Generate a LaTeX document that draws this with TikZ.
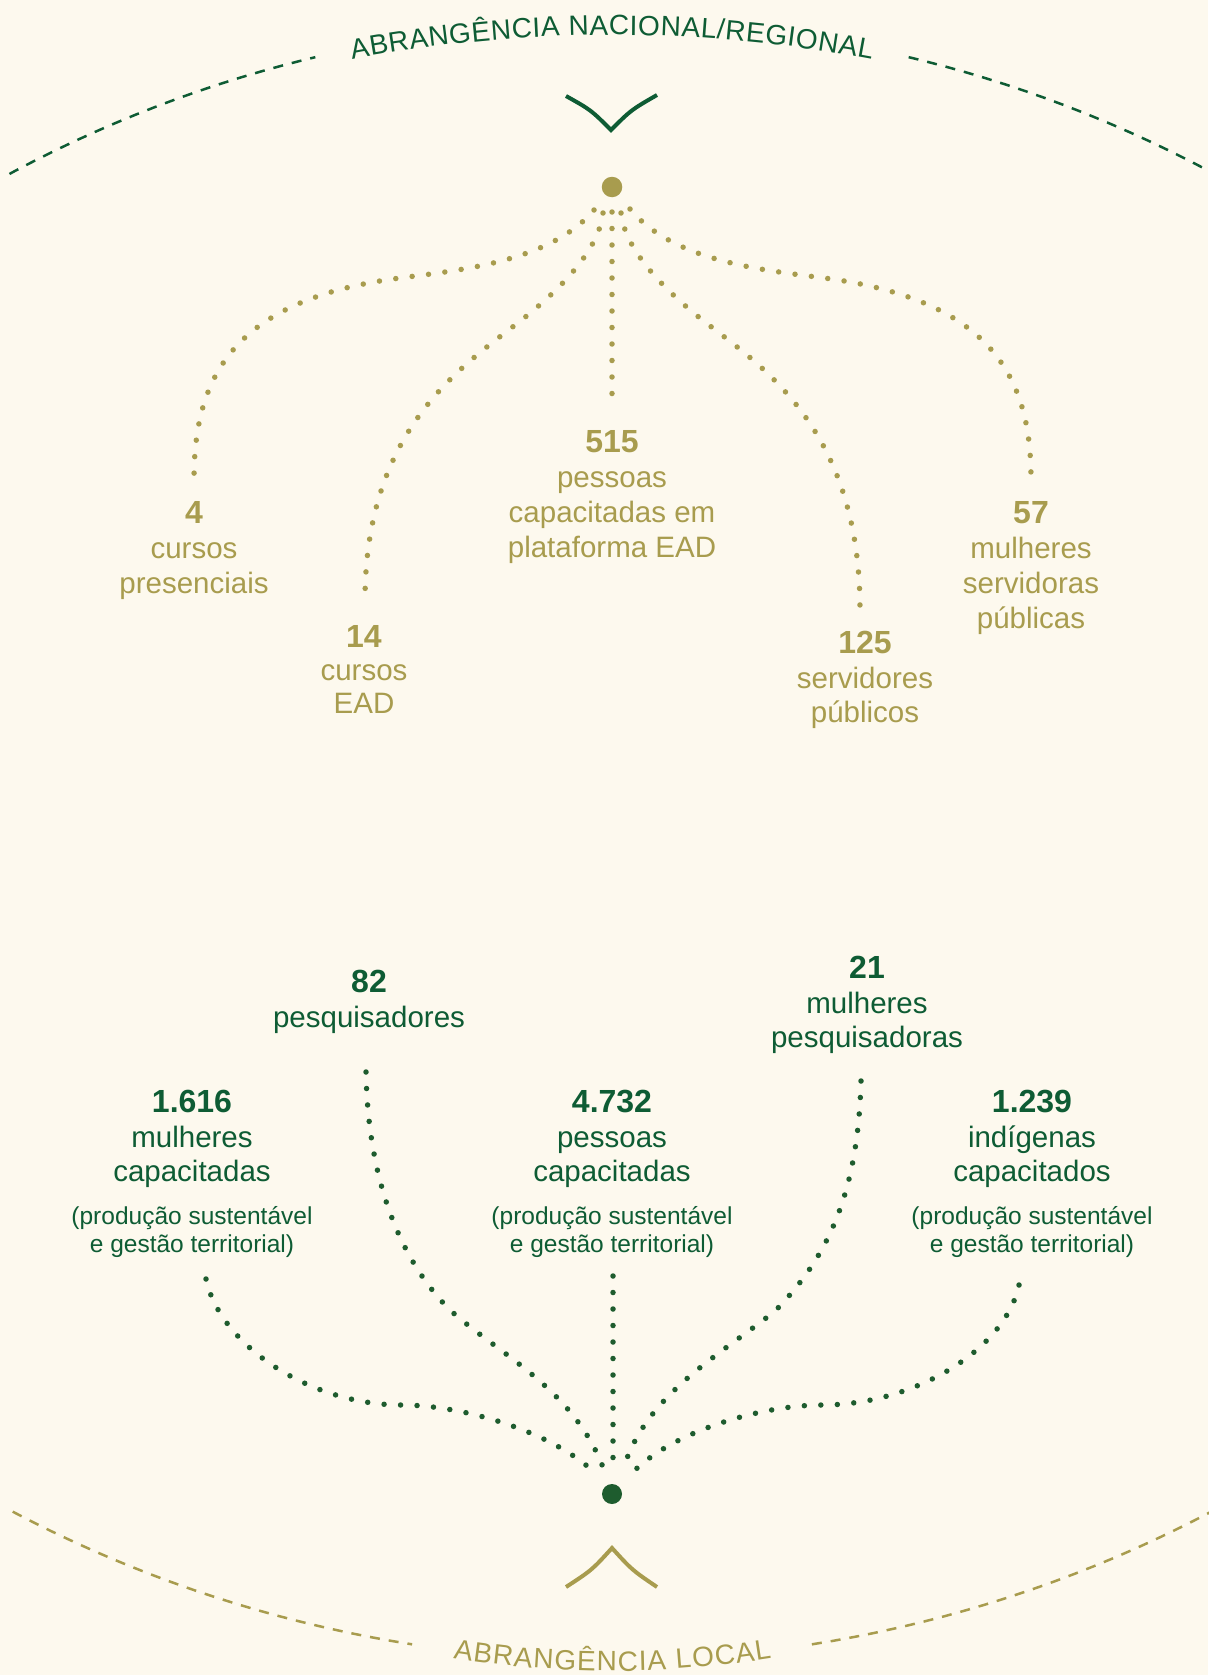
\documentclass[tikz,border=0pt]{standalone}
\usepackage{fontspec}
\setmainfont{Liberation Sans}
\usetikzlibrary{decorations.text}
\definecolor{bgc}{HTML}{FDF9EE}
\definecolor{gold}{HTML}{A89C4E}
\definecolor{dgreen}{HTML}{0E5C34}
\definecolor{dotgreen}{HTML}{1E5C2E}
\begin{document}
\begin{tikzpicture}[x=1pt,y=-1pt,
  numstyle/.style={font=\bfseries\fontsize{32}{32}\selectfont, anchor=base, inner sep=0pt},
  txtstyle/.style={font=\fontsize{29.5}{35}\selectfont, anchor=base, inner sep=0pt},
  smallstyle/.style={font=\fontsize{24.5}{28}\selectfont, anchor=base, inner sep=0pt},
  dotline/.style={line width=5.5pt, line cap=round, dash pattern=on 0pt off 16.5pt},
  dasharc/.style={line width=2.5pt, dash pattern=on 10pt off 9pt},
  chev/.style={line width=4pt, line join=miter},
  bigdot/.style={circle, inner sep=0pt, minimum size=20.5pt},
]
\fill[bgc] (0,0) rectangle (1208,1675);
\useasboundingbox (0,0) rectangle (1208,1675);

% ---------- top dashed arc and title ----------
\draw[dasharc, dgreen] plot[domain=118.3:103.5, samples=60, variable=\t] ({612+1271*cos(\t)},{1293-1271*sin(\t)});
\draw[dasharc, dgreen] plot[domain=76.5:61.7, samples=60, variable=\t] ({612+1271*cos(\t)},{1293-1271*sin(\t)});
\path[decorate, decoration={text along path, text align=fit to path, text color=dgreen,
  text={|\fontsize{28}{28}\selectfont|ABRANGÊNCIA NACIONAL/REGIONAL}}]
  plot[domain=100.7:79.3, samples=80, variable=\t] ({612+1400*cos(\t)},{1435-1400*sin(\t)});
\draw[chev, dgreen] (566,96) .. controls (591,110) .. (611,130) .. controls (631,110) .. (657,95);

% ---------- bottom dashed arc and title ----------
\draw[dasharc, gold] plot[domain=117.8:98.95, samples=60, variable=\t] ({612+1285*cos(\t)},{375+1285*sin(\t)});
\draw[dasharc, gold] plot[domain=81.05:62.2, samples=60, variable=\t] ({612+1285*cos(\t)},{375+1285*sin(\t)});
\path[decorate, decoration={text along path, text align=fit to path, text color=gold,
  text={|\fontsize{28}{28}\selectfont|ABRANGÊNCIA LOCAL}}]
  plot[domain=99.15:80.8, samples=80, variable=\t] ({612+1000*cos(\t)},{671+1000*sin(\t)});
\draw[chev, gold] (566,1587) .. controls (592,1570) .. (612,1548) .. controls (632,1570) .. (657,1587);

% ---------- hub dots ----------
\node[bigdot, fill=gold] (topdot) at (612,187) {};
\node[bigdot, fill=dotgreen, minimum size=20pt] (botdot) at (612,1494) {};

% ---------- top labels ----------
\begin{scope}[gold]
\node[numstyle] (n4) at (194,523) {4};
\node[txtstyle] (n4a) at (194,558) {cursos};
\node[txtstyle] (n4b) at (194,593) {presenciais};
\node[numstyle] (n14) at (364,647) {14};
\node[txtstyle] (n14a) at (364,680) {cursos};
\node[txtstyle] (n14b) at (364,713) {EAD};
\node[numstyle] (n515) at (612,452) {515};
\node[txtstyle] (n515a) at (612,487) {pessoas};
\node[txtstyle] (n515b) at (612,522) {capacitadas em};
\node[txtstyle] (n515c) at (612,557) {plataforma EAD};
\node[numstyle] (n125) at (865,653) {125};
\node[txtstyle] (n125a) at (865,688) {servidores};
\node[txtstyle] (n125b) at (865,722) {públicos};
\node[numstyle] (n57) at (1031,523) {57};
\node[txtstyle] (n57a) at (1031,558) {mulheres};
\node[txtstyle] (n57b) at (1031,593) {servidoras};
\node[txtstyle] (n57c) at (1031,628) {públicas};
\end{scope}

% ---------- bottom labels ----------
\begin{scope}[dgreen]
\node[numstyle] (n82) at (369,992) {82};
\node[txtstyle] (n82a) at (369,1027) {pesquisadores};
\node[numstyle] (n21) at (867,978) {21};
\node[txtstyle] (n21a) at (867,1013) {mulheres};
\node[txtstyle] (n21b) at (867,1047) {pesquisadoras};
\node[numstyle] (n1616) at (192,1112) {1.616};
\node[txtstyle] (n1616a) at (192,1147) {mulheres};
\node[txtstyle] (n1616b) at (192,1181) {capacitadas};
\node[smallstyle] (n1616c) at (192,1224) {(produção sustentável};
\node[smallstyle] (n1616d) at (192,1252) {e gestão territorial)};
\node[numstyle] (n4732) at (612,1112) {4.732};
\node[txtstyle] (n4732a) at (612,1147) {pessoas};
\node[txtstyle] (n4732b) at (612,1181) {capacitadas};
\node[smallstyle] (n4732c) at (612,1224) {(produção sustentável};
\node[smallstyle] (n4732d) at (612,1252) {e gestão territorial)};
\node[numstyle] (n1239) at (1032,1112) {1.239};
\node[txtstyle] (n1239a) at (1032,1147) {indígenas};
\node[txtstyle] (n1239b) at (1032,1181) {capacitados};
\node[smallstyle] (n1239c) at (1032,1224) {(produção sustentável};
\node[smallstyle] (n1239d) at (1032,1252) {e gestão territorial)};
\end{scope}

% ---------- top dotted connectors ----------
\coordinate (ts1) at (594,210); \coordinate (te1) at (194,480);
\coordinate (ts2) at (603,213); \coordinate (te2) at (365,601);
\coordinate (ts3) at (612,212); \coordinate (te3) at (612,408);
\coordinate (ts4) at (621,213); \coordinate (te4) at (860,610);
\coordinate (ts5) at (630,209); \coordinate (te5) at (1031,479);
\begin{scope}[dotline, gold]
\draw (ts1) .. controls (550,262) and (460,270) .. (400,278) .. controls (230,300) and (194,380) .. (te1);
\draw (ts2) .. controls (599,250) and (560,290) .. (519,322) .. controls (460,368) and (365,430) .. (te2);
\draw (ts3) -- (te3);
\draw (ts4) .. controls (625,250) and (664,290) .. (705,322) .. controls (764,368) and (860,430) .. (te4);
\draw (ts5) .. controls (674,262) and (764,270) .. (824,278) .. controls (994,300) and (1031,380) .. (te5);
\end{scope}

% ---------- bottom dotted connectors ----------
\coordinate (bs1) at (595,1473); \coordinate (be1) at (206,1279);
\coordinate (bs2) at (604,1470); \coordinate (be2) at (366,1072);
\coordinate (bs3) at (613,1473); \coordinate (be3) at (613,1276);
\coordinate (bs4) at (623,1470); \coordinate (be4) at (861,1081);
\coordinate (bs5) at (632,1473); \coordinate (be5) at (1019,1285);
\begin{scope}[dotline, dotgreen]
\draw (be1) .. controls (220,1345) and (310,1405) .. (402,1405) .. controls (460,1405) and (550,1430) .. (bs1);
\draw (be2) .. controls (368,1180) and (400,1260) .. (450,1310) .. controls (500,1355) and (575,1390) .. (bs2);
\draw (be3) -- (bs3);
\draw (be4) .. controls (858,1190) and (830,1255) .. (775,1311) .. controls (720,1355) and (645,1395) .. (bs4);
\draw (be5) .. controls (1005,1350) and (914,1405) .. (822,1405) .. controls (764,1405) and (674,1430) .. (bs5);
\end{scope}
\end{tikzpicture}
\end{document}
